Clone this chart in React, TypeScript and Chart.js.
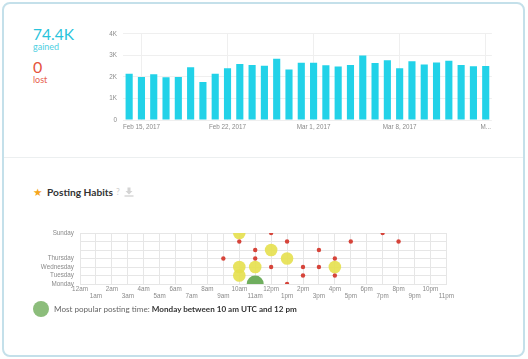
import React, { useEffect, useRef } from "react";
import { Chart, registerables } from "chart.js";

Chart.register(...registerables);

// ---------- Followers gained per day ----------
const dayLabels = [
  "Feb 14, 2017", "Feb 15, 2017", "Feb 16, 2017", "Feb 17, 2017", "Feb 18, 2017",
  "Feb 19, 2017", "Feb 20, 2017", "Feb 21, 2017", "Feb 22, 2017", "Feb 23, 2017",
  "Feb 24, 2017", "Feb 25, 2017", "Feb 26, 2017", "Feb 27, 2017", "Feb 28, 2017",
  "Mar 1, 2017", "Mar 2, 2017", "Mar 3, 2017", "Mar 4, 2017", "Mar 5, 2017",
  "Mar 6, 2017", "Mar 7, 2017", "Mar 8, 2017", "Mar 9, 2017", "Mar 10, 2017",
  "Mar 11, 2017", "Mar 12, 2017", "Mar 13, 2017", "Mar 14, 2017", "Mar 15, 2017",
];
const gainedValues = [
  2140, 2000, 2120, 1980, 2000, 2450, 1760, 2140, 2400, 2600,
  2550, 2520, 2840, 2340, 2660, 2660, 2540, 2480, 2550, 2990,
  2640, 2770, 2400, 2720, 2580, 2670, 2750, 2550, 2490, 2500,
];
const shownTickIndices = [1, 8, 15, 22, 29];
const shownTickTexts = ["Feb 15, 2017", "Feb 22, 2017", "Mar 1, 2017", "Mar 8, 2017", "M..."];
const totalGained = "74.4K";
const totalLost = "0";

// ---------- Posting habits ----------
const weekDays = ["Monday", "Tuesday", "Wednesday", "Thursday", "Friday", "Saturday", "Sunday"];
const shownWeekDays = ["Monday", "Tuesday", "Wednesday", "Thursday", "", "", "Sunday"];
const hourLabels = [
  "12am", "1am", "2am", "3am", "4am", "5am", "6am", "7am", "8am", "9am", "10am", "11am",
  "12pm", "1pm", "2pm", "3pm", "4pm", "5pm", "6pm", "7pm", "8pm", "9pm", "10pm", "11pm",
];
// [hour, dayIndex (Monday = 0)]
const fewPosts = [
  [12, 6], [19, 6],
  [10, 5], [13, 5], [17, 5], [20, 5],
  [11, 4], [15, 4],
  [9, 3], [11, 3], [16, 3],
  [12, 2], [14, 2], [15, 2],
  [14, 1], [16, 1],
  [13, 0],
];
const manyPosts = [[10, 6], [12, 4], [13, 3], [10, 2], [11, 2], [16, 2], [10, 1]];
const mostPosts = [[11, 0]];

const tickFont = { family: "'Liberation Sans', Arial, sans-serif", size: 6.3 };
const tickColor = "#8a8a8a";

function BarChart() {
  const ref = useRef<HTMLCanvasElement>(null);
  useEffect(() => {
    const chart = new Chart(ref.current!, {
      type: "bar",
      data: {
        labels: dayLabels,
        datasets: [
          {
            data: gainedValues,
            backgroundColor: "#22d2e8",
            barPercentage: 0.58,
            categoryPercentage: 1,
          },
        ],
      },
      options: {
        animation: false,
        responsive: false,
        maintainAspectRatio: false,
        layout: { padding: { top: 7, right: 2, left: 0, bottom: 0 } },
        plugins: { legend: { display: false }, tooltip: { enabled: false } },
        scales: {
          x: {
            grid: { offset: false, color: "#efefef", drawTicks: false },
            border: { display: false },
            ticks: {
              autoSkip: false,
              maxRotation: 0,
              padding: 3,
              font: tickFont,
              color: tickColor,
              callback: (_v: any, i: number) => {
                const k = shownTickIndices.indexOf(i);
                return k >= 0 ? shownTickTexts[k] : null;
              },
            },
            afterFit: (s: any) => { s.height = 14; },
          },
          y: {
            min: 0,
            max: 4000,
            grid: { color: "#efefef", drawTicks: false },
            border: { display: false },
            ticks: {
              stepSize: 1000,
              padding: 6,
              font: tickFont,
              color: tickColor,
              callback: (v: any) => (v === 0 ? "0" : v / 1000 + "K"),
            },
            afterFit: (s: any) => { s.width = 23; },
          },
        },
      },
    });
    return () => chart.destroy();
  }, []);
  return <canvas ref={ref} width={394} height={110} style={{ position: "absolute", left: 100, top: 24 }} />;
}

function BubbleChart() {
  const ref = useRef<HTMLCanvasElement>(null);
  useEffect(() => {
    const toPts = (arr: number[][], r: number) => arr.map(([x, y]) => ({ x, y, r }));
    const chart = new Chart(ref.current!, {
      type: "bubble",
      data: {
        datasets: [
          { data: toPts(manyPosts, 6.3), backgroundColor: "rgba(230,224,78,0.9)", borderWidth: 0, clip: 0 } as any,
          { data: toPts(mostPosts, 8.5), backgroundColor: "#6fae5e", borderWidth: 0, clip: 0 } as any,
          { data: toPts(fewPosts, 2.2), backgroundColor: "#d6443a", borderWidth: 0, clip: 0 } as any,
        ],
      },
      options: {
        animation: false,
        responsive: false,
        maintainAspectRatio: false,
        layout: { padding: { top: 11, right: 8, left: 0, bottom: 0 } },
        plugins: { legend: { display: false }, tooltip: { enabled: false } },
        scales: {
          x: {
            type: "linear",
            min: 0,
            max: 23,
            grid: { color: "#e6e6e6", drawTicks: false },
            border: { color: "#e6e6e6" },
            ticks: {
              stepSize: 1,
              autoSkip: false,
              maxRotation: 0,
              padding: 1,
              font: tickFont,
              color: tickColor,
              callback: (v: any) => {
                const lbl = hourLabels[v] ?? "";
                return v % 2 === 0 ? [lbl, ""] : ["", lbl];
              },
            },
            afterFit: (s: any) => { s.height = 18; },
          },
          y: {
            type: "linear",
            min: 0,
            max: 6,
            grid: { color: "#e6e6e6", drawTicks: false },
            border: { color: "#e6e6e6" },
            ticks: {
              stepSize: 1,
              autoSkip: false,
              padding: 6,
              font: tickFont,
              color: tickColor,
              callback: (v: any) => shownWeekDays[v] ?? "",
            },
            afterFit: (s: any) => { s.width = 50; },
          },
        },
      },
    });
    return () => chart.destroy();
  }, []);
  return <canvas ref={ref} width={425} height={80} style={{ position: "absolute", left: 30, top: 222 }} />;
}

export default function App() {
  const lato = "Lato, 'Open Sans', sans-serif";
  return (
    <div style={{ position: "fixed", left: 0, top: 0, width: 528, height: 359, background: "#fff", overflow: "hidden", fontFamily: lato }}>
      <div style={{ position: "absolute", left: 2, top: 2, width: 519, height: 351, border: "2px solid #c4e0ea", borderRadius: 8 }} />
      <div style={{ position: "absolute", left: 4, top: 157, width: 519, height: 1, background: "#eceff0" }} />

      <div style={{ position: "absolute", left: 33, top: 23.5, fontSize: 15.5, color: "#28c3db", lineHeight: "20px" }}>{totalGained}</div>
      <div style={{ position: "absolute", left: 33, top: 41, fontSize: 9, color: "#4fd0e2", lineHeight: "12px" }}>gained</div>
      <div style={{ position: "absolute", left: 33, top: 56.5, fontSize: 16, color: "#e5533d", lineHeight: "20px" }}>{totalLost}</div>
      <div style={{ position: "absolute", left: 33, top: 74, fontSize: 9, color: "#e8634f", lineHeight: "12px" }}>lost</div>

      <BarChart />

      <div style={{ position: "absolute", left: 33, top: 185, fontSize: 10.5, color: "#f5a51c", lineHeight: "14px", fontFamily: "'DejaVu Sans', sans-serif" }}>★</div>
      <div style={{ position: "absolute", left: 47, top: 185, fontSize: 10.2, fontWeight: 700, color: "#333", lineHeight: "14px" }}>Posting Habits</div>
      <div style={{ position: "absolute", left: 116, top: 186, fontSize: 8.5, color: "#cfcfcf", lineHeight: "12px" }}>?</div>
      <svg style={{ position: "absolute", left: 124, top: 187 }} width={10} height={10}>
        <path d="M3.5 0.5 h3 v3.5 h2 l-3.5 3.5 l-3.5 -3.5 h2 z" fill="#d4d4d4" />
        <rect x={0.5} y={8.3} width={9} height={1.4} fill="#d4d4d4" />
      </svg>

      <BubbleChart />

      <div style={{ position: "absolute", left: 33, top: 301, width: 16, height: 16, borderRadius: 8, background: "#8cbd7b" }} />
      <div style={{ position: "absolute", left: 54, top: 303, fontSize: 8.1, color: "#666", lineHeight: "12px", whiteSpace: "nowrap" }}>
        Most popular posting time: <span style={{ fontWeight: 700, color: "#333" }}>Monday between 10 am UTC and 12 pm</span>
      </div>
    </div>
  );
}
